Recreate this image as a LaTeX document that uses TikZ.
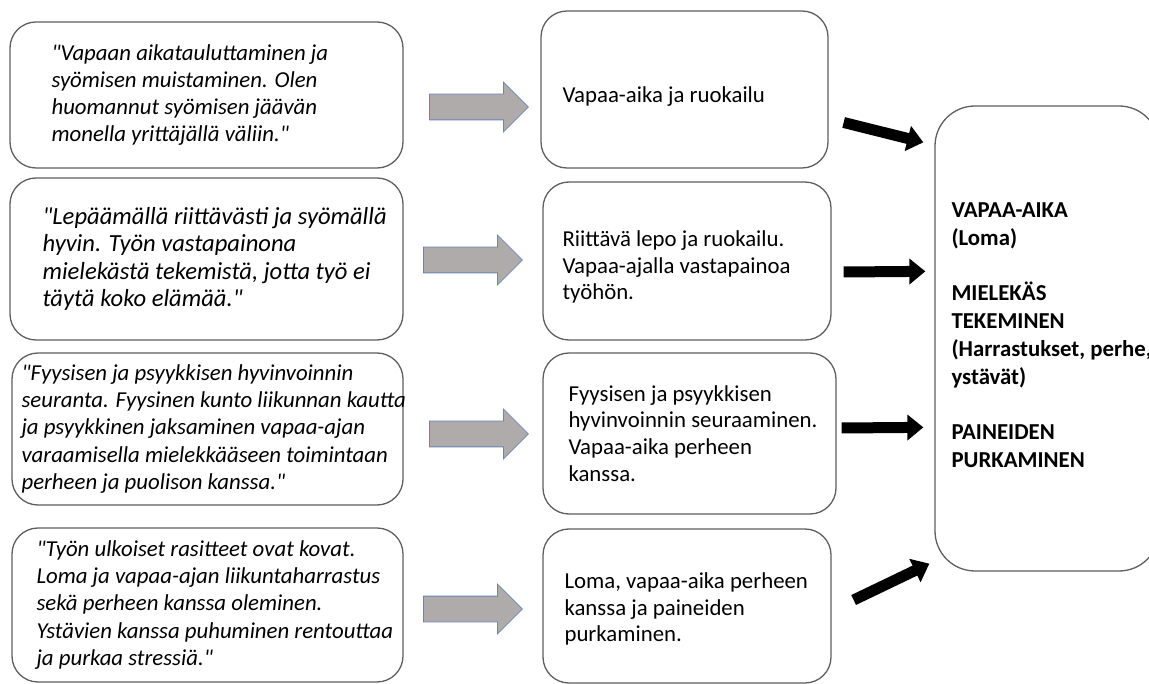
\documentclass[tikz,border=0pt]{standalone}
\usepackage{fontspec}
\setmainfont{Carlito}[Ligatures=TeXOff]
\usepackage{xcolor}
\usetikzlibrary{positioning,shapes.arrows,arrows.meta}

\definecolor{boxedge}{RGB}{95,95,95}
\definecolor{arrowgrey}{RGB}{175,171,171}
\definecolor{arrowedge}{RGB}{106,134,184}

\tikzset{
  box/.style={draw=boxedge, line width=1.3pt, rounded corners=26pt, fill=white},
  quote/.style={font=\fontsize{22.8}{27.3}\selectfont\itshape, align=left, inner sep=0pt},
  bigquote/.style={quote, font=\fontsize{24.6}{27.5}\selectfont\itshape},
  answer/.style={font=\fontsize{22.8}{26.7}\selectfont, align=left, inner sep=0pt},
  theme/.style={font=\fontsize{22.8}{27.8}\selectfont\bfseries, align=left, inner sep=0pt},
  greyarrow/.style={single arrow, draw=arrowedge, fill=arrowgrey, line width=0.8pt, anchor=tail,
    minimum height=99pt, inner xsep=0pt, inner ysep=12.5pt, single arrow head extend=12pt},
  blackarrow/.style={line width=11pt, -{Triangle[length=16pt,width=25pt]}}
}

\begin{document}
\begin{tikzpicture}[x=1pt, y=-1pt]
\useasboundingbox (0,0) rectangle (1149,684);

\node[box, minimum width=393, minimum height=146] (q1) at (206.5,95) {};
\node[box, minimum width=393, minimum height=162] (q2) at (206.5,259) {};
\node[box, minimum width=391, minimum height=152] (q3) at (207.5,429) {};
\node[box, minimum width=391, minimum height=154] (q4) at (207.5,605) {};

\node[quote, anchor=west] (q1t) at ([xshift=42pt]q1.west)
  {"Vapaan aikatauluttaminen ja\\syömisen muistaminen. Olen\\huomannut syömisen jäävän\\monella yrittäjällä väliin."};
\node[bigquote, anchor=west] (q2t) at ([xshift=33pt]q2.west)
  {"Lepäämällä riittävästi ja syömällä\\hyvin. Työn vastapainona\\mielekästä tekemistä, jotta työ ei\\täytä koko elämää."};
\node[quote, anchor=west] (q3t) at ([xshift=10pt]q3.west)
  {"Fyysisen ja psyykkisen hyvinvoinnin\\seuranta. Fyysinen kunto liikunnan kautta\\ja psyykkinen jaksaminen vapaa-ajan\\varaamisella mielekkääseen toimintaan\\perheen ja puolison kanssa."};
\node[quote, anchor=west] (q4t) at ([xshift=25pt]q4.west)
  {"Työn ulkoiset rasitteet ovat kovat.\\Loma ja vapaa-ajan liikuntaharrastus\\sekä perheen kanssa oleminen.\\Ystävien kanssa puhuminen rentouttaa\\ja purkaa stressiä."};

\node[greyarrow] (g1) at (429,107) {};
\node[greyarrow] (g2) at (423,260) {};
\node[greyarrow] (g3) at (429,434) {};
\node[greyarrow] (g4) at (423,609) {};

\node[box, minimum width=287, minimum height=157] (m1) at (684.5,89.5) {};
\node[box, minimum width=288, minimum height=158] (m2) at (687,261) {};
\node[box, minimum width=293, minimum height=161] (m3) at (689.5,433.5) {};
\node[box, minimum width=288, minimum height=154] (m4) at (687,606) {};

\node[answer, anchor=west] (m1t) at ([shift={(22,7.5)}]m1.west) {Vapaa-aika ja ruokailu};
\node[answer, anchor=west] (m2t) at ([shift={(20,6)}]m2.west)
  {Riittävä lepo ja ruokailu.\\Vapaa-ajalla vastapainoa\\työhön.};
\node[answer, anchor=west] (m3t) at ([shift={(26,0)}]m3.west)
  {Fyysisen ja psyykkisen\\hyvinvoinnin seuraaminen.\\Vapaa-aika perheen\\kanssa.};
\node[answer, anchor=west] (m4t) at ([shift={(22,3)}]m4.west)
  {Loma, vapaa-aika perheen\\kanssa ja paineiden\\purkaminen.};

\node[box, rounded corners=40pt, minimum width=224, minimum height=465] (r) at (1047,338.5) {};
\node[theme, anchor=west] (rt) at ([shift={(17,-3.5)}]r.west)
  {VAPAA-AIKA\\(Loma)\\~\\MIELEKÄS\\TEKEMINEN\\(Harrastukset, perhe,\\ystävät)\\~\\PAINEIDEN\\PURKAMINEN};

\draw[blackarrow] ([shift={(15,33)}]m1.east) -- ([shift={(-11,37)}]r.north west);
\draw[blackarrow] ([shift={(12,11)}]m2.east) -- ([shift={(-9,166)}]r.north west);
\draw[blackarrow] ([shift={(5,-5.5)}]m3.east) -- ([shift={(-11,322)}]r.north west);
\draw[blackarrow] ([shift={(22,-6)}]m4.east) -- ([shift={(-5,-8)}]r.south west);
\end{tikzpicture}
\end{document}
